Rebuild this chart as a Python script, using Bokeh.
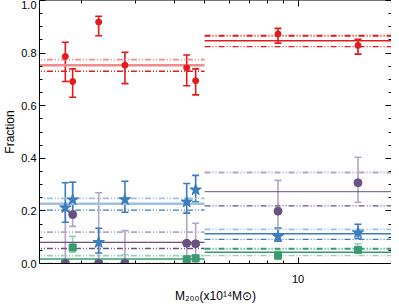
from bokeh.plotting import figure
from bokeh.models import (Range1d, LinearAxis, LogAxis, FixedTicker, Whisker, TeeHead,
                          ColumnDataSource, PrintfTickFormatter)
from bokeh.embed import file_html
from bokeh.resources import INLINE

# ---------------- data ----------------
mass = [1.78, 1.88, 2.28, 2.77, 4.38, 4.68, 8.62, 15.6]

red_f = [0.787, 0.692, 0.918, 0.754, 0.744, 0.695, 0.873, 0.829]
red_hi = [0.841, 0.740, 0.940, 0.803, 0.793, 0.740, 0.894, 0.852]
red_lo = [0.692, 0.632, 0.866, 0.684, 0.676, 0.641, 0.838, 0.796]

blue_f = [0.212, 0.242, 0.080, 0.243, 0.234, 0.280, 0.103, 0.117]
blue_hi = [0.307, 0.309, 0.134, 0.313, 0.304, 0.335, 0.134, 0.149]
blue_lo = [0.157, 0.195, 0.040, 0.195, 0.191, 0.235, 0.085, 0.095]

purple_f = [0.0, 0.186, 0.0, 0.0, 0.077, 0.075, 0.199, 0.307]
purple_hi = [0.225, 0.309, 0.269, 0.125, 0.195, 0.153, 0.316, 0.404]
purple_lo = [0.0, 0.141, 0.0, 0.0, 0.0, 0.0, 0.136, 0.233]

green_f = [0.0, 0.061, 0.0, 0.0, 0.016, 0.020, 0.030, 0.052]
green_hi = [0.0, 0.103, 0.0, 0.033, 0.028, 0.032, 0.047, 0.075]
green_lo = [0.0, 0.043, 0.0, 0.0, 0.005, 0.008, 0.015, 0.040]

# mass bins and binned fractions (central, upper, lower)
bin_lo = [1.4, 5.0]
bin_hi = [5.0, 25.0]
red_mid = [0.754, 0.847]
red_up = [0.775, 0.866]
red_dn = [0.731, 0.825]
blue_mid = [0.227, 0.113]
blue_up = [0.248, 0.130]
blue_dn = [0.203, 0.092]
purple_mid = [0.080, 0.273]
purple_up = [0.119, 0.346]
purple_dn = [0.057, 0.219]
green_mid = [0.017, 0.043]
green_up = [0.030, 0.056]
green_dn = [0.0, 0.030]

x_ticks = [10]
x_minor = [2, 3, 4, 5, 6, 7, 8, 9, 20]
y_ticks = [0.0, 0.2, 0.4, 0.6, 0.8, 1.0]
y_minor = [0.05, 0.1, 0.15, 0.25, 0.3, 0.35, 0.45, 0.5, 0.55, 0.65, 0.7, 0.75,
           0.85, 0.9, 0.95]

# ---------------- style ----------------
RED, RED_L = "#e41a1c", "#f28c8c"
BLUE, BLUE_L = "#3b7dbd", "#9fc1e1"
PUR, PUR_L = "#6a5184", "#b5a5c6"
GRN, GRN_L = "#3a9a72", "#98d0b5"
FONT = "Liberation Sans"
DASH = "6 2 1 2 1 2"

p = figure(width=391, height=306, x_axis_type="log",
           x_range=Range1d(1.47, 20.0), y_range=Range1d(0, 1.0),
           output_backend="svg", toolbar_location=None,
           min_border_left=33, min_border_right=0, min_border_top=0,
           min_border_bottom=43)
p.grid.visible = False
p.outline_line_color = None
p.background_fill_color = "white"


def style_axis(ax):
    ax.major_tick_in = 6
    ax.major_tick_out = 0
    ax.minor_tick_in = 3
    ax.minor_tick_out = 0
    ax.axis_line_color = "black"
    ax.major_tick_line_color = "black"
    ax.minor_tick_line_color = "black"
    ax.major_label_text_font = FONT
    ax.major_label_text_font_size = "11px"
    ax.major_label_text_color = "black"
    ax.axis_label_text_font = FONT
    ax.axis_label_text_font_style = "normal"
    ax.axis_label_text_color = "black"


xa = p.xaxis[0]
style_axis(xa)
xa.ticker = FixedTicker(ticks=x_ticks, minor_ticks=x_minor)
xa.formatter = PrintfTickFormatter(format="%d")
xa.major_label_standoff = 11
xa.axis_label = "M\u2082\u2080\u2080(x10\u00b9\u2074M\u2299)"
xa.axis_label_text_font_size = "12px"
xa.axis_label_standoff = 3

ya = p.yaxis[0]
style_axis(ya)
ya.ticker = FixedTicker(ticks=y_ticks, minor_ticks=y_minor)
ya.formatter = PrintfTickFormatter(format="%.1f")
ya.major_label_standoff = 3
ya.axis_label = "Fraction"
ya.axis_label_text_font_size = "12px"
ya.axis_label_standoff = 1

top = LogAxis(ticker=FixedTicker(ticks=x_ticks, minor_ticks=x_minor))
style_axis(top)
top.major_label_text_font_size = "1px"
top.major_label_text_color = None
top.major_label_standoff = 0
top.axis_line_color = "#777777"
p.add_layout(top, "above")

right = LinearAxis(ticker=FixedTicker(ticks=y_ticks, minor_ticks=y_minor))
style_axis(right)
right.major_label_text_font_size = "1px"
right.major_label_text_color = None
right.major_label_standoff = 0
right.axis_line_color = None
p.add_layout(right, "right")

# ---------------- binned lines ----------------
series_lines = [
    (red_mid, red_up, red_dn, [RED_L, RED], [2.5, 1.5], [RED_L, RED], [RED, RED]),
    (blue_mid, blue_up, blue_dn, [BLUE_L, BLUE], [2.5, 1.5], [BLUE_L, BLUE_L], [BLUE, BLUE]),
    (purple_mid, purple_up, purple_dn, [PUR, PUR], [1.2, 1.0], [PUR_L, PUR_L], [PUR, PUR]),
    (green_mid, green_up, green_dn, [GRN, GRN], [1.5, 1.5], [GRN_L, GRN], [GRN, GRN_L]),
]
for mid, up, dn, mc, mw, uc, dc in series_lines:
    p.segment(x0=bin_lo, x1=bin_hi, y0=up, y1=up, line_color=uc, line_width=1.8,
              line_dash=DASH)
    p.segment(x0=bin_lo, x1=bin_hi, y0=dn, y1=dn, line_color=dc, line_width=1.3,
              line_dash=DASH)
    p.segment(x0=bin_lo, x1=bin_hi, y0=mid, y1=mid, line_color=mc, line_width=mw)

# ---------------- points with error bars ----------------
series_pts = [
    (green_f, green_hi, green_lo, GRN_L, GRN, "square", 7),
    (purple_f, purple_hi, purple_lo, PUR_L, PUR, "circle", 8),
    (blue_f, blue_hi, blue_lo, BLUE, BLUE, "star", 12),
    (red_f, red_hi, red_lo, RED, RED, "circle", 6),
]
for f, hi, lo, ecol, col, mk, sz in series_pts:
    src = ColumnDataSource(dict(x=mass, f=f, hi=hi, lo=lo))
    w = Whisker(base="x", upper="hi", lower="lo", source=src, dimension="height",
                line_color=ecol, line_width=1.6, level="underlay",
                upper_head=TeeHead(size=7, line_color=ecol, line_width=1.6),
                lower_head=TeeHead(size=7, line_color=ecol, line_width=1.6))
    p.add_layout(w)
    p.scatter(x="x", y="f", source=src, marker=mk, size=sz, fill_color=col,
              line_color=col, line_width=1)

open("out.html", "w").write(file_html(p, INLINE))
